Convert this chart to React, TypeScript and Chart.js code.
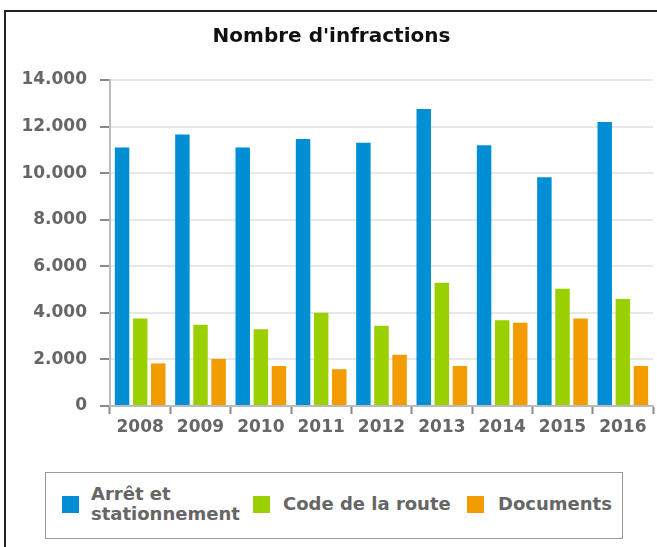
import React, { useEffect, useRef } from "react";
import { Chart, registerables } from "chart.js";

Chart.register(...registerables);

const years = ["2008", "2009", "2010", "2011", "2012", "2013", "2014", "2015", "2016"];
const seriesNames = ["Arrêt et stationnement", "Code de la route", "Documents"];
const arretValues = [11100, 11660, 11100, 11470, 11300, 12750, 11200, 9820, 12200];
const codeValues = [3760, 3490, 3300, 4000, 3450, 5290, 3680, 5030, 4590];
const documentsValues = [1830, 2020, 1720, 1580, 2200, 1720, 3580, 3760, 1720];
const seriesColors = ["#008fd5", "#9bd000", "#f39c00"];
const yMin = 0;
const yMax = 14000;
const yStep = 2000;
const titleText = "Nombre d'infractions";

const FONT = "'DejaVu Sans', sans-serif";

function fmt(v: number): string {
  return String(v).replace(/\B(?=(\d{3})+(?!\d))/g, ".");
}

export default function App() {
  const canvasRef = useRef<HTMLCanvasElement | null>(null);

  useEffect(() => {
    document.body.style.margin = "0";
    const canvas = canvasRef.current;
    if (!canvas) return;
    const chart = new Chart(canvas, {
      type: "bar",
      data: {
        labels: years,
        datasets: [
          { label: seriesNames[0], data: arretValues, backgroundColor: seriesColors[0] },
          { label: seriesNames[1], data: codeValues, backgroundColor: seriesColors[1] },
          { label: seriesNames[2], data: documentsValues, backgroundColor: seriesColors[2] },
        ],
      },
      options: {
        responsive: false,
        animation: false,
        devicePixelRatio: 1,
        layout: { padding: { left: 10, right: 4, top: 0, bottom: 0 } },
        datasets: { bar: { categoryPercentage: 0.9, barPercentage: 0.8 } },
        plugins: {
          legend: { display: false },
          tooltip: { enabled: false },
          title: {
            display: true,
            text: titleText,
            color: "#111",
            font: { family: FONT, size: 20, weight: "bold" },
            padding: { top: 25, bottom: 31 },
          },
        },
        scales: {
          x: {
            offset: true,
            grid: {
              offset: true,
              drawOnChartArea: false,
              drawTicks: true,
              tickLength: 8,
              tickColor: "#888",
              tickWidth: 2,
            },
            border: { display: true, color: "#bbb", width: 2 },
            ticks: {
              color: "#666",
              font: { family: FONT, size: 17, weight: "bold" },
              padding: 3,
              maxRotation: 0,
              autoSkip: false,
            },
            afterFit: (s: any) => {
              s.height = 54;
            },
          },
          y: {
            min: yMin,
            max: yMax,
            ticks: {
              stepSize: yStep,
              color: "#666",
              font: { family: FONT, size: 17, weight: "bold" },
              padding: 13,
              callback: (v: any) => fmt(Number(v)),
            },
            grid: {
              color: "#e8e8e8",
              lineWidth: 2,
              tickLength: 10,
              tickColor: "#888",
              tickWidth: 2,
            },
            border: { display: true, color: "#bbb", width: 2 },
            afterFit: (s: any) => {
              s.width = 100;
            },
          },
        },
      },
    });
    return () => chart.destroy();
  }, []);

  const squareStyle = (c: string, left: number): React.CSSProperties => ({
    position: "absolute",
    width: 17,
    height: 17,
    background: c,
    top: 23,
    left,
  });
  const textStyle: React.CSSProperties = {
    position: "absolute",
    fontFamily: FONT,
    fontWeight: "bold",
    fontSize: 18,
    color: "#666",
    lineHeight: "20px",
    whiteSpace: "nowrap",
  };

  return (
    <div style={{ position: "relative", width: 657, height: 547, overflow: "hidden", background: "#fff" }}>
      <div
        style={{
          position: "absolute",
          left: 4,
          top: 10,
          width: 720,
          height: 620,
          border: "2px solid #222",
          boxSizing: "border-box",
        }}
      />
      <canvas
        ref={canvasRef}
        width={657}
        height={460}
        style={{ position: "absolute", left: 0, top: 0, width: 657, height: 460 }}
      />
      <div
        style={{
          position: "absolute",
          left: 45,
          top: 472,
          width: 578,
          height: 67,
          border: "1.5px solid #999",
          boxSizing: "border-box",
          background: "#fff",
        }}
      >
        <div style={squareStyle(seriesColors[0], 16)} />
        <div style={{ ...textStyle, left: 45, top: 11, whiteSpace: "normal", width: 160 }}>{seriesNames[0]}</div>
        <div style={squareStyle(seriesColors[1], 207)} />
        <div style={{ ...textStyle, left: 237, top: 21 }}>{seriesNames[1]}</div>
        <div style={squareStyle(seriesColors[2], 421)} />
        <div style={{ ...textStyle, left: 452, top: 21 }}>{seriesNames[2]}</div>
      </div>
    </div>
  );
}
